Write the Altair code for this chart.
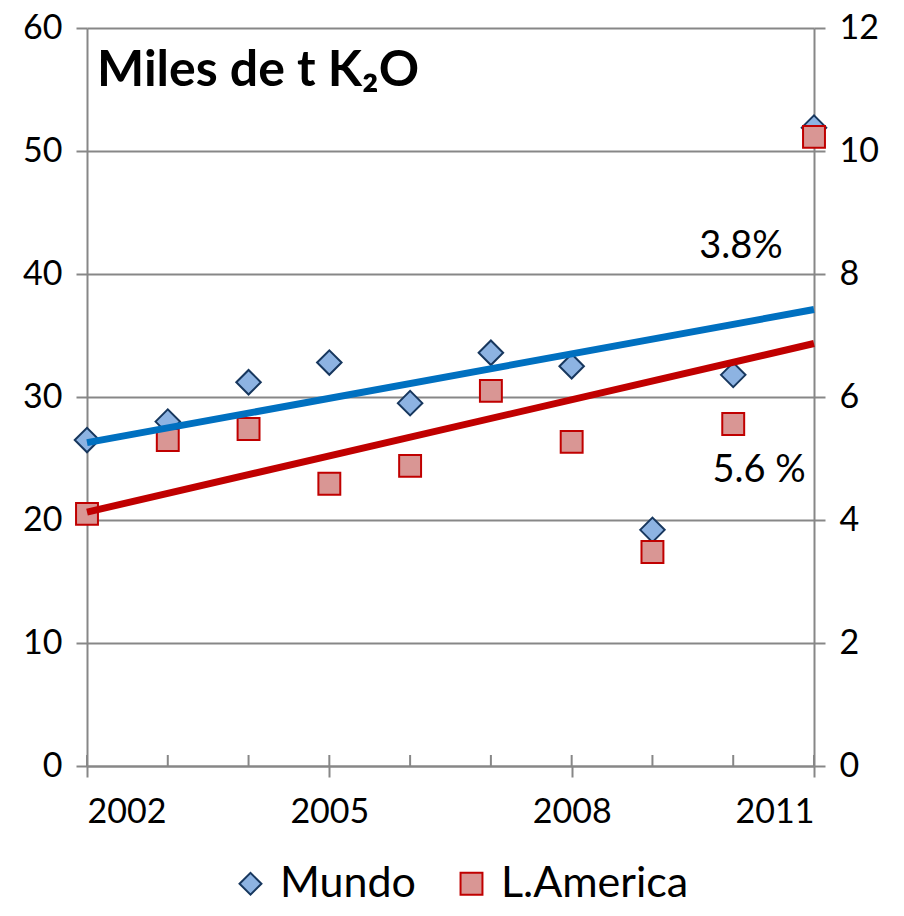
import altair as alt
import pandas as pd

# ---- data ----
years = [2002, 2003, 2004, 2005, 2006, 2007, 2008, 2009, 2010, 2011]
mundo = [26.5, 28.0, 31.2, 32.8, 29.5, 33.6, 32.5, 19.2, 31.8, 51.9]
lamerica = [4.10, 5.30, 5.48, 4.59, 4.88, 6.10, 5.27, 3.48, 5.56, 10.23]
series_names = ["Mundo", "L.America"]
left_ticks = [0, 10, 20, 30, 40, 50, 60]
right_ticks = [0, 2, 4, 6, 8, 10, 12]
year_labels = [2002, 2005, 2008, 2011]
annotations = ["3.8%", "5.6 %"]
title_text = ["Miles de t K₂O"]

df = pd.DataFrame({
    "year": years * 2,
    "series": [series_names[0]] * len(years) + [series_names[1]] * len(years),
    "value": mundo + lamerica,
})
df_m = df[df.series == series_names[0]]
df_l = df[df.series == series_names[1]]

W, H = 727, 738
GRID = "#878787"
FONT = "Lato"

xenc = alt.X(
    "year:Q",
    scale=alt.Scale(domain=[2002, 2011], nice=False, zero=False),
    axis=alt.Axis(values=year_labels, format="d", title=None, grid=False,
                  tickSize=11, labelPadding=18),
)

legend = alt.Legend(
    title=None, orient="none", direction="horizontal",
    legendX=142, legendY=834, labelLimit=0,
    labelFontSize=43, labelFont=FONT, labelColor="black",
    symbolSize=480, symbolStrokeWidth=2, labelOffset=8, columnPadding=34,
)
fill_enc = alt.Fill("series:N", scale=alt.Scale(domain=series_names, range=["#8DB3E2", "#D99694"]), legend=legend)
stroke_enc = alt.Stroke("series:N", scale=alt.Scale(domain=series_names, range=["#17375E", "#C00000"]), legend=legend)
shape_enc = alt.Shape("series:N", scale=alt.Scale(domain=series_names, range=["diamond", "square"]), legend=legend)

ly_scale = alt.Scale(domain=[0, 60], nice=False)
ry_scale = alt.Scale(domain=[0, 12], nice=False)

mundo_pts = alt.Chart(df_m).mark_point(filled=True, opacity=1, strokeWidth=2, size=600).encode(
    x=xenc,
    y=alt.Y("value:Q", scale=ly_scale,
            axis=alt.Axis(values=left_ticks, grid=True, tickSize=11, title=None,
                          orient="left", labelPadding=14)),
    fill=fill_enc, stroke=stroke_enc, shape=shape_enc,
)
la_pts = alt.Chart(df_l).mark_point(filled=True, opacity=1, strokeWidth=2, size=480).encode(
    x=xenc,
    y=alt.Y("value:Q", scale=ry_scale,
            axis=alt.Axis(values=right_ticks, grid=False, tickSize=11, title=None,
                          orient="right", labelPadding=14)),
    fill=fill_enc, stroke=stroke_enc, shape=shape_enc,
)
mundo_line = alt.Chart(df_m).transform_regression("year", "value").mark_line(
    color="#0070C0", strokeWidth=7).encode(
    x=alt.X("year:Q"), y=alt.Y("value:Q", scale=ly_scale, axis=None))
la_line = alt.Chart(df_l).transform_regression("year", "value").mark_line(
    color="#C00000", strokeWidth=7).encode(
    x=alt.X("year:Q"), y=alt.Y("value:Q", scale=ry_scale, axis=None))

minor_ticks = alt.Chart(df_m).mark_rule(color=GRID, strokeWidth=2).encode(
    x=alt.X("year:Q"), y=alt.value(H - 11), y2=alt.value(H))

ann1 = alt.Chart(pd.DataFrame({"label": [annotations[0]]})).mark_text(
    font=FONT, fontSize=38, align="center", baseline="middle", color="black").encode(
    x=alt.value(654), y=alt.value(219), text="label:N")
ann2 = alt.Chart(pd.DataFrame({"label": [annotations[1]]})).mark_text(
    font=FONT, fontSize=38, align="center", baseline="middle", color="black").encode(
    x=alt.value(672), y=alt.value(443), text="label:N")
title = alt.Chart(pd.DataFrame({"label": title_text})).mark_text(
    font=FONT, fontSize=50, fontWeight="bold", align="left", baseline="alphabetic",
    color="black").encode(x=alt.value(10), y=alt.value(58), text="label:N")

chart = alt.layer(
    mundo_pts, la_pts, mundo_line, la_line, minor_ticks, ann1, ann2, title
).resolve_scale(y="independent").properties(
    width=W, height=H,
    padding={"left": 79, "top": 20, "right": 82, "bottom": 142},
    autosize=alt.AutoSizeParams(type="none"),
).configure_view(stroke=None).configure_axis(
    labelFont=FONT, labelFontSize=34, labelColor="black",
    domainColor=GRID, tickColor=GRID, gridColor=GRID,
    domainWidth=2, tickWidth=2, gridWidth=2,
)

chart.save("out.html", embed_options={"renderer": "svg", "actions": False})
